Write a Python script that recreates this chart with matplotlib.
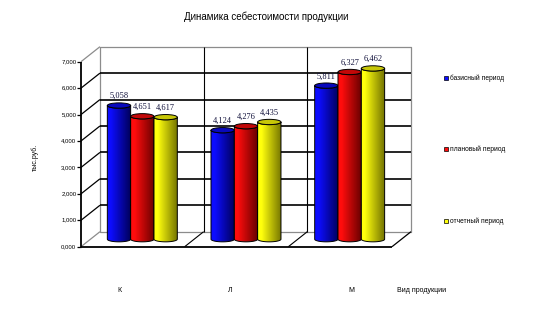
import matplotlib
matplotlib.use('Agg')

import matplotlib.pyplot as plt
import numpy as np
from matplotlib.patches import Polygon, Ellipse, Rectangle

# data
categories = ['К', 'Л', 'М']
series_names = ['базисный период', 'плановый период', 'отчетный период']
basic = [5.058, 4.124, 5.811]
planned = [4.651, 4.276, 6.327]
actual = [4.617, 4.435, 6.462]
yticks = [0, 1, 2, 3, 4, 5, 6, 7]

colors = [((0.05, 0.05, 1.0), (0.0, 0.0, 0.35)),
          ((1.0, 0.05, 0.05), (0.40, 0.0, 0.0)),
          ((1.0, 1.0, 0.05), (0.45, 0.45, 0.0))]

DX, DY = 0.183, 0.568   # depth offset of the back wall, in data units
W = 0.225               # bar width
B = 0.10                # half height of the cylinder ellipses

fig = plt.figure(figsize=(5.34, 3.29), dpi=100)
ax = fig.add_axes([81 / 534, (329 - 246.7) / 329, (392 - 81) / 534, (246.7 - 61.7) / 329])
ax.set_xlim(0, 3)
ax.set_ylim(0, 7)
ax.axis('off')

grey = '#8c8c8c'
lkw = dict(clip_on=False, solid_capstyle='butt')

# back wall outline
ax.plot([DX, DX, 3 + DX, 3 + DX, DX], [DY, 7 + DY, 7 + DY, DY, DY], color=grey, lw=0.9, **lkw)
for k in yticks:
    c = grey if k in (0, 7) else 'black'
    ax.plot([0, DX], [k, k + DY], color=c, lw=0.9, **lkw)
    if 0 < k < 7:
        ax.plot([DX, 3 + DX], [k + DY, k + DY], color='black', lw=1.2, **lkw)
    ax.plot([-0.035, 0], [k, k], color='black', lw=0.9, **lkw)
    ax.text(-0.045, k, f'{k},000', ha='right', va='center', fontsize=4.3,
            family='Liberation Sans')
for c in (1, 2):
    ax.plot([c + DX, c + DX], [DY, 7 + DY], color='black', lw=0.8, **lkw)
    ax.plot([c, c + DX], [0, DY], color='black', lw=0.8, **lkw)
ax.plot([3, 3 + DX], [0, DY], color='black', lw=0.9, **lkw)
ax.plot([0, 3], [0, 0], color='black', lw=1.3, **lkw)
ax.plot([0, 0], [0, 7], color='black', lw=1.3, **lkw)


def cylinder(xc, top, base, light, dark, z):
    a = W / 2
    t = np.linspace(np.pi, 2 * np.pi, 40)
    bottom = np.column_stack([xc + a * np.cos(t), base + B * np.sin(t)])
    t2 = np.linspace(0, -np.pi, 40)
    upper = np.column_stack([xc + a * np.cos(t2), top + B * np.sin(t2)])
    pts = np.vstack([bottom, upper])
    n = 64
    s = np.linspace(0, 1, n)
    light, dark = np.array(light), np.array(dark)
    f = np.clip((s - 0.15) / 0.85, 0, 1)[:, None]
    grad = (light * (1 - f) + dark * f)[None, :, :]
    im = ax.imshow(grad, extent=[xc - a, xc + a, base - B, top], aspect='auto',
                   interpolation='bilinear', zorder=z, clip_on=True)
    clip = Polygon(pts, closed=True, transform=ax.transData)
    im.set_clip_path(clip)
    ax.add_patch(Polygon(pts, closed=True, fc='none', ec='black', lw=0.7, zorder=z + 0.1,
                         clip_on=False))
    mid = light * 0.6 + dark * 0.4
    ax.add_patch(Ellipse((xc, top), W, 2 * B, fc=mid, ec='black', lw=0.7, zorder=z + 0.2,
                         clip_on=False))


for si, vals in enumerate([basic, planned, actual]):
    for ci, v in enumerate(vals):
        xc = ci + 0.5 + (si - 1) * W + DX / 2
        base = DY / 2
        top = v + DY / 2
        cylinder(xc, top, base, colors[si][0], colors[si][1], 5 + ci * 3 + si)
        ax.text(xc, top + 0.2, f'{v:.3f}'.replace('.', ','), ha='center', va='bottom',
                fontsize=6, family='Liberation Serif', color='#10103a', zorder=20)

ax.set_xlim(0, 3)
ax.set_ylim(0, 7)

# category labels
label_x = [0.37, 1.44, 2.61]
for lx, name in zip(label_x, categories):
    ax.text(lx, -1.65, name, ha='center', va='center', fontsize=5, family='Liberation Sans')
ax.text(3.05, -1.65, 'Вид продукции', ha='left', va='center', fontsize=5,
        family='Liberation Sans')

fig.text(35 / 534, 1 - 157 / 329, 'тыс.руб.', rotation=90, ha='center', va='center',
         fontsize=5, family='Liberation Sans')
fig.text(266 / 534, 1 - 17 / 329, 'Динамика себестоимости продукции', ha='center',
         va='center', fontsize=7, family='Liberation Sans')

# legend
legend_y = [78, 149, 221]
for (light, dark), name, ly in zip(colors, series_names, legend_y):
    fig.patches.append(Rectangle((444 / 534, 1 - (ly + 2) / 329), 4 / 534, 4 / 329,
                                 fc=light, ec='black', lw=0.5, transform=fig.transFigure))
    fig.text(450 / 534, 1 - ly / 329, name, ha='left', va='center', fontsize=4.8,
             family='Liberation Sans')

plt.savefig('out.png', dpi=100)
plt.close()
